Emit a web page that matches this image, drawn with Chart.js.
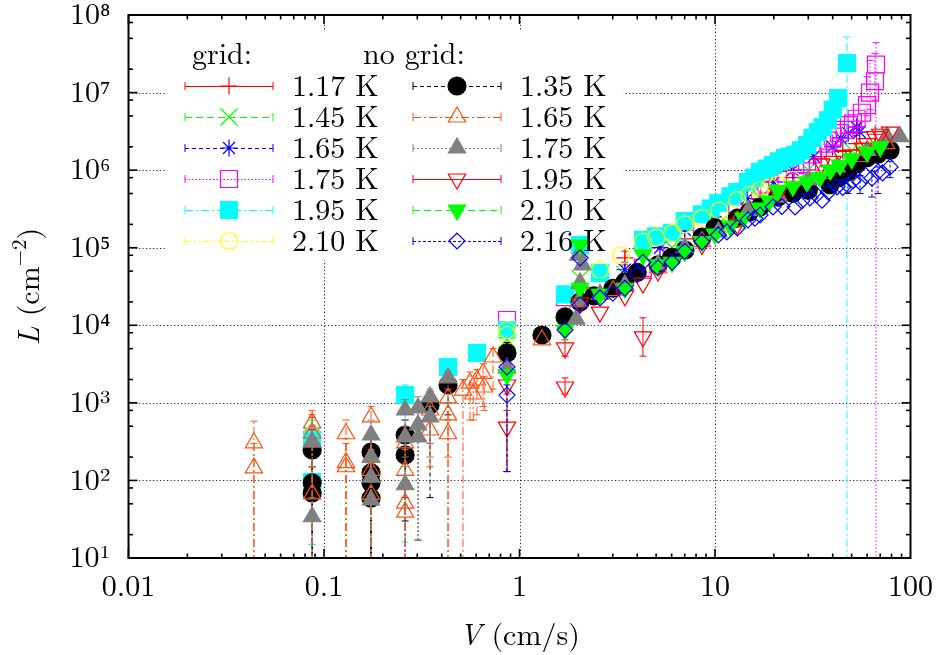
<!DOCTYPE html>
<html>
<head>
<meta charset="utf-8">
<script src="https://cdn.jsdelivr.net/npm/chart.js@4.4.1/dist/chart.umd.min.js"></script>
<style>
html,body{margin:0;padding:0;background:#fff;}
#wrap{width:942px;height:655px;position:relative;}
canvas{display:block;}
</style>
</head>
<body>
<div id="wrap"><canvas id="c" width="942" height="655"></canvas></div>
<script>
// ---------------- data ----------------
const xTickValues = [0.01, 0.1, 1, 10, 100];
const xTickLabels = ['0.01', '0.1', '1', '10', '100'];
const yTickValues = [1e1, 1e2, 1e3, 1e4, 1e5, 1e6, 1e7, 1e8];
const yTickLabels = ['10\u00B9', '10\u00B2', '10\u00B3', '10\u2074', '10\u2075', '10\u2076', '10\u2077', '10\u2078'];
const groupTitles = ['grid:', 'no grid:'];
const seriesLabels = ['1.17 K', '1.45 K', '1.65 K', '1.75 K', '1.95 K', '2.10 K',
                      '1.35 K', '1.65 K', '1.75 K', '1.95 K', '2.10 K', '2.16 K'];

// each point: [V (cm/s), L (cm^-2), lower error bound, upper error bound]
const grid117 = [
  [0.087, 430, 120, 650], [2.58, 2.6e4], [3.46, 7.4e4, 6.0e4, 9.0e4], [5.11, 1.26e5, 1.05e5, 1.5e5],
  [7.0, 1.3e5], [10.4, 2.1e5], [17, 4.2e5], [25, 8.0e5], [35, 1.4e6], [45, 1.8e6],
  [53, 2.2e6, 1.8e6, 2.8e6], [66, 2.9e6]
];
const grid145 = [
  [0.087, 380, 100, 600], [0.174, 180, 1, 350], [0.863, 6500], [2.04, 4.0e4], [3.46, 4.5e4],
  [6.03, 1.0e5], [10.4, 2.0e5], [17, 4.4e5], [30, 1.0e6], [50, 1.8e6]
];
const grid165 = [
  [3.46, 5.2e4, 4.2e4, 6.5e4], [5.23, 1.0e5], [7.0, 1.7e5], [9.8, 2.5e5], [14.6, 4.3e5],
  [20, 7.0e5], [25, 1.0e6], [32, 1.5e6], [40, 2.0e6], [44, 2.6e6], [48, 3.0e6], [53, 3.6e6], [55, 3.1e6]
];
const grid175 = [
  [0.863, 1.17e4], [1.71, 2.3e4], [4.28, 5.5e4], [6.03, 1.1e5], [8.6, 2.0e5], [13, 3.6e5],
  [15, 4.6e5], [17, 5.5e5], [19, 6.5e5], [21, 7.5e5], [23, 9.0e5], [25.7, 1.16e6],
  [27.5, 1.2e6], [29.6, 1.3e6], [31.5, 1.6e6], [33.6, 1.9e6], [36, 2.2e6], [38, 2.4e6],
  [40, 2.7e6], [43, 3.0e6], [46, 3.3e6], [48.5, 3.8e6], [50.8, 4.0e6], [53, 4.6e6],
  [56.5, 5.5e6], [59.9, 6.9e6, 5.0e6, 1.6e7], [62.1, 1.0e7, 6.0e6, 2.6e7],
  [65.8, 1.4e7, 8.0e6, 3.2e7], [66.6, 2.3e7, 1, 4.4e7]
];
const grid195 = [
  [0.087, 330, 15, 520], [0.087, 95, 15, 200], [0.26, 1260, 16, 1700], [0.431, 2900], [0.606, 4400],
  [0.863, 8700], [1.71, 2.5e4], [2.04, 1.08e5], [2.58, 4.7e4], [4.28, 1.26e5], [5.0, 1.4e5],
  [6.03, 1.55e5], [7.0, 2.2e5], [8.58, 2.7e5], [9.5, 3.2e5], [10.4, 3.8e5], [12, 4.6e5],
  [13, 5.2e5], [14.75, 7.0e5], [15.9, 8.0e5], [17, 9.5e5], [18.4, 1.05e6], [19.8, 1.16e6],
  [21.2, 1.3e6], [22.8, 1.43e6], [24, 1.5e6], [25.7, 1.57e6], [27.5, 1.8e6], [29.6, 2.1e6],
  [31.5, 2.6e6], [33.6, 3.1e6], [35.5, 3.6e6], [37.8, 4.4e6], [40, 6.0e6],
  [42.6, 8.5e6, 7.0e6, 1.1e7], [47.3, 2.4e7, 1, 5.2e7]
];
const grid210 = [
  [0.863, 8700], [0.863, 7500], [2.58, 5.2e4], [3.3, 8.0e4], [4.28, 1.19e5], [5.0, 1.35e5],
  [6.03, 1.55e5], [7.0, 2.0e5], [8.58, 2.4e5], [10.5, 3.0e5], [13, 4.1e5], [15, 4.8e5],
  [17, 5.5e5], [19, 6.0e5], [21, 6.5e5], [24.8, 7.5e5]
];
const nogrid135 = [
  [0.087, 247, 1, 450], [0.087, 93, 1, 200], [0.087, 69, 1, 150],
  [0.174, 232, 1, 400], [0.174, 125, 1, 250], [0.174, 93, 1, 200], [0.174, 59, 1, 120],
  [0.26, 385, 60, 600], [0.26, 213, 30, 400], [0.3485, 940, 60, 1400], [0.431, 1700, 700, 2300],
  [0.863, 4400, 130, 6000], [1.303, 7500], [1.709, 1.28e4], [2.04, 2.0e4], [2.4, 2.4e4],
  [3.01, 3.0e4], [3.46, 3.6e4], [4.0, 4.8e4], [5.11, 6.0e4], [6.0, 7.5e4], [7.02, 9.3e4],
  [8.58, 1.37e5], [10, 1.8e5], [13, 2.4e5], [15, 2.9e5], [17, 3.35e5], [21, 4.5e5], [25, 5.0e5],
  [30, 5.5e5], [38.7, 6.5e5], [43, 8.0e5], [47.9, 9.5e5], [53, 1.2e6], [59.9, 1.45e6],
  [68, 1.6e6], [78.6, 1.8e6]
];
const nogrid165 = [
  [0.0438, 304, 1, 580], [0.0438, 145, 1, 300],
  [0.087, 550, 1, 800], [0.087, 409, 1, 700], [0.087, 313, 1, 500], [0.087, 67, 1, 150],
  [0.1296, 400, 1, 600], [0.1296, 170, 1, 350], [0.1296, 150, 1, 300],
  [0.174, 658, 1, 900], [0.174, 200, 1, 400], [0.174, 135, 1, 250], [0.174, 66, 1, 150],
  [0.26, 304, 1, 500], [0.26, 135, 1, 250], [0.26, 51, 1, 100], [0.26, 39, 1, 80],
  [0.3485, 809, 300, 1100], [0.3485, 447, 150, 700],
  [0.431, 1160, 1, 1500], [0.431, 700, 1, 1000], [0.431, 400, 200, 600],
  [0.514, 1460, 1, 2000], [0.558, 1800, 600, 2500], [0.58, 1300, 600, 1800], [0.606, 1970, 700, 2700],
  [0.651, 2400, 900, 3200], [0.66, 1600, 800, 2200], [0.732, 3900, 1500, 5000],
  [1.303, 6500], [2.04, 3.5e4], [3.01, 2.8e4], [5.11, 5.5e4], [8.58, 1.2e5], [13, 2.2e5],
  [21, 4.8e5], [35, 9.0e5], [55, 1.5e6], [75, 2.2e6]
];
const nogrid175 = [
  [0.087, 313, 1, 500], [0.087, 34, 1, 60],
  [0.174, 385, 1, 600], [0.174, 200, 1, 350], [0.174, 110, 1, 200], [0.174, 56, 1, 100],
  [0.26, 809, 200, 1100], [0.26, 363, 1, 600], [0.26, 88, 1, 150],
  [0.3026, 859, 17, 1200], [0.3026, 518, 17, 800], [0.3026, 363, 17, 500],
  [0.3485, 1190, 300, 1500], [0.3485, 658, 200, 900], [0.431, 2100, 1000, 2600], [0.863, 2800],
  [1.95, 1.2e4], [2.0, 2.0e4], [2.04, 3.5e4], [2.1, 6.0e4], [2.0, 8.0e4],
  [2.58, 2.5e4], [3.46, 3.3e4], [5.11, 6.0e4], [7.0, 1.0e5], [10.4, 1.6e5], [14.75, 3.0e5],
  [21, 4.5e5], [30, 7.5e5], [42, 1.1e6], [60, 1.8e6], [75.8, 2.7e6], [88.4, 2.7e6]
];
const nogrid195 = [
  [0.863, 1700, 1300, 2200], [0.863, 488, 130, 800], [1.709, 5100, 4000, 6500], [1.709, 1600, 1300, 2100],
  [2.04, 1.94e4], [2.58, 1.48e4], [3.46, 2.4e4], [4.28, 3.5e4], [4.28, 7100, 4000, 1.25e4],
  [5.11, 5.0e4], [8.58, 1.1e5], [13, 2.0e5], [21, 5.0e5], [35, 1.2e6], [40, 1.3e6], [45, 1.5e6],
  [50.8, 1.57e6], [57.1, 1.93e6], [60, 2.2e6], [65.8, 2.7e6], [70, 2.9e6], [78.6, 3.1e6]
];
const nogrid210 = [
  [0.863, 2300], [1.709, 8700], [2.04, 1.08e5], [2.04, 3.0e4], [2.58, 2.5e4], [3.46, 3.0e4],
  [4.28, 8.1e4], [5.0, 6.0e4], [6.03, 6.5e4], [7.0, 9.0e4], [8.58, 1.2e5], [10, 1.5e5], [12, 1.9e5],
  [14, 2.4e5], [17, 3.25e5], [19, 4.0e5], [21, 5.5e5], [25, 6.2e5], [29.6, 7.0e5], [34.4, 8.1e5],
  [39, 1.0e6], [43.6, 1.16e6], [50, 1.4e6], [59.9, 1.71e6], [70, 2.0e6]
];
const nogrid216 = [
  [0.863, 2900], [0.863, 1260, 130, 1700], [1.709, 8700], [2.04, 7.4e4], [2.04, 1.83e4],
  [2.58, 2.25e4], [3.0, 2.6e4], [3.46, 3.0e4], [4.0, 4.5e4], [4.28, 6.5e4], [5.11, 5.5e4],
  [6.03, 6.5e4], [7.0, 9.0e4], [8.58, 1.19e5], [10.4, 1.46e5], [11.5, 1.6e5], [13, 1.8e5],
  [14.75, 2.28e5], [16, 2.4e5], [17, 2.64e5], [19.8, 3.35e5], [22, 3.4e5], [25.7, 3.35e5],
  [27.8, 4.0e5], [30.6, 4.4e5], [33, 4.8e5], [35.3, 4.1e5], [38, 5.2e5], [42.1, 6.1e5],
  [45, 6.0e5], [47.9, 6.4e5, 5.0e5, 7.5e5], [50.8, 7.3e5], [55.2, 7.0e5, 5.0e5, 8.5e5],
  [59, 8.5e5], [63.5, 7.9e5, 4.5e5, 9.5e5], [68.2, 9.5e5, 5.0e5, 1.1e6], [72, 9.2e5],
  [78.6, 1.1e6, 8.0e5, 1.3e6]
];

// ---------------- styles ----------------
const FONT = '"Latin Modern Roman", "Liberation Serif", "DejaVu Serif", serif';
const seriesData = [grid117, grid145, grid165, grid175, grid195, grid210,
                    nogrid135, nogrid165, nogrid175, nogrid195, nogrid210, nogrid216];
const styles = [
  {c: '#ff0000', fill: false, ps: 'cross',    r: 8.5, rot: 0,   dash: []},
  {c: '#00ff00', fill: false, ps: 'crossRot', r: 12,  rot: 0,   dash: [7, 4]},
  {c: '#0000ff', fill: false, ps: 'star',     r: 8.5, rot: 0,   dash: [4, 3]},
  {c: '#ff00ff', fill: false, ps: 'rect',     r: 12,  rot: 0,   dash: [1.5, 2]},
  {c: '#00ffff', fill: true,  ps: 'rect',     r: 12,  rot: 0,   dash: [8, 3, 2, 3]},
  {c: '#ffff00', fill: false, ps: 'circle',   r: 8.5, rot: 0,   dash: [6, 3, 2, 3, 2, 3]},
  {c: '#000000', fill: true,  ps: 'circle',   r: 9,   rot: 0,   dash: [4, 3]},
  {c: '#ff5010', fill: false, ps: 'triangle', r: 10,  rot: 0,   dash: [8, 3, 2, 3]},
  {c: '#808080', fill: true,  ps: 'triangle', r: 10,  rot: 0,   dash: [2, 2]},
  {c: '#ff0000', fill: false, ps: 'triangle', r: 10,  rot: 180, dash: []},
  {c: '#00ff00', fill: true,  ps: 'triangle', r: 10,  rot: 180, dash: [7, 4]},
  {c: '#0000ff', fill: false, ps: 'rectRot',  r: 8,   rot: 0,   dash: [3, 2]}
];

const datasets = seriesData.map((arr, i) => {
  const s = styles[i];
  return {
    label: (i < 6 ? 'grid ' : 'no grid ') + seriesLabels[i],
    data: arr.map(p => ({x: p[0], y: p[1], lo: p[2], hi: p[3]})),
    showLine: false,
    pointStyle: s.ps,
    pointRadius: s.r,
    pointRotation: s.rot,
    borderColor: s.c,
    backgroundColor: s.fill ? s.c : 'rgba(0,0,0,0)',
    borderWidth: 1.2,
    order: 11 - i,
    errDash: s.dash
  };
});

// ---------------- layout constants (pixels) ----------------
const LEGEND = {
  box: {x: 167, y: 30, w: 456, h: 230},
  titleY: 55, rowY0: 86, rowDy: 31,
  cols: [{x1: 185, x2: 273, mx: 229, tx: 292, titleX: 192},
         {x1: 413, x2: 501, mx: 457, tx: 520, titleX: 363}]
};
const FS = 30;

function drawMarker(ctx, ds, x, y) {
  ctx.save();
  ctx.setLineDash([]);
  ctx.strokeStyle = ds.borderColor;
  ctx.fillStyle = ds.backgroundColor;
  ctx.lineWidth = ds.borderWidth;
  Chart.helpers.drawPoint(ctx, {pointStyle: ds.pointStyle, rotation: ds.pointRotation, radius: ds.pointRadius, borderWidth: ds.borderWidth}, x, y);
  ctx.restore();
}

const gnuplotLook = {
  id: 'gnuplotLook',
  beforeDatasetsDraw(chart) {
    const {ctx, chartArea: a, scales: {x, y}} = chart;
    const b = LEGEND.box;
    ctx.save();
    ctx.beginPath();
    ctx.rect(a.left, a.top, a.right - a.left, a.bottom - a.top);
    ctx.rect(b.x, b.y, b.w, b.h);
    ctx.clip('evenodd');
    ctx.strokeStyle = 'rgba(0,0,0,0.85)';
    ctx.lineWidth = 1;
    ctx.setLineDash([1.2, 2.3]);
    xTickValues.forEach(v => {
      const p = Math.round(x.getPixelForValue(v)) + 0.5;
      if (p > a.left + 3 && p < a.right - 3) {
        ctx.beginPath(); ctx.moveTo(p, a.bottom); ctx.lineTo(p, a.top); ctx.stroke();
      }
    });
    yTickValues.forEach(v => {
      const p = Math.round(y.getPixelForValue(v)) + 0.5;
      if (p > a.top + 3 && p < a.bottom - 3) {
        ctx.beginPath(); ctx.moveTo(a.left, p); ctx.lineTo(a.right, p); ctx.stroke();
      }
    });
    ctx.restore();
  },
  beforeDatasetDraw(chart, args) {
    const ds = chart.data.datasets[args.index];
    const {ctx, chartArea: a, scales: {x, y}} = chart;
    ctx.save();
    ctx.beginPath();
    ctx.rect(a.left, a.top, a.right - a.left, a.bottom - a.top);
    ctx.clip();
    ctx.strokeStyle = ds.borderColor;
    ctx.lineWidth = 1;
    ds.data.forEach(p => {
      if (p.lo == null || p.hi == null) return;
      const px = x.getPixelForValue(p.x);
      const yl = Math.min(y.getPixelForValue(p.lo), a.bottom + 5);
      const yh = y.getPixelForValue(p.hi);
      ctx.setLineDash(ds.errDash);
      ctx.beginPath(); ctx.moveTo(px, yl); ctx.lineTo(px, yh); ctx.stroke();
      ctx.setLineDash([]);
      [yl, yh].forEach(yy => {
        if (yy < a.bottom && yy > a.top) {
          ctx.beginPath(); ctx.moveTo(px - 3.5, yy); ctx.lineTo(px + 3.5, yy); ctx.stroke();
        }
      });
    });
    ctx.restore();
  },
  afterDatasetsDraw(chart) {
    const {ctx, chartArea: a, scales: {x, y}} = chart;
    ctx.save();
    ctx.strokeStyle = '#000';
    ctx.setLineDash([]);
    ctx.lineWidth = 1.6;
    const tick = (x1, y1, x2, y2) => { ctx.beginPath(); ctx.moveTo(x1, y1); ctx.lineTo(x2, y2); ctx.stroke(); };
    for (let d = -2; d <= 1; d++) {
      for (let m = 1; m <= 9; m++) {
        const v = m * Math.pow(10, d);
        const p = x.getPixelForValue(v);
        const len = m === 1 ? 9 : 4.5;
        tick(p, a.bottom, p, a.bottom - len);
        tick(p, a.top, p, a.top + len);
      }
    }
    for (let d = 1; d <= 7; d++) {
      [1, 2, 5, 8].forEach(m => {
        const v = m * Math.pow(10, d);
        const p = y.getPixelForValue(v);
        const len = m === 1 ? 9 : 4.5;
        tick(a.left, p, a.left + len, p);
        tick(a.right, p, a.right - len, p);
      });
    }
    ctx.lineWidth = 2;
    ctx.strokeRect(a.left, a.top, a.right - a.left, a.bottom - a.top);
    ctx.restore();
  },
  afterDraw(chart) {
    const {ctx, chartArea: a} = chart;
    ctx.save();
    ctx.fillStyle = '#000';
    ctx.textBaseline = 'middle';
    ctx.font = FS + 'px ' + FONT;
    ctx.textAlign = 'left';
    LEGEND.cols.forEach((c, g) => {
      ctx.fillText(groupTitles[g], c.titleX, LEGEND.titleY);
      for (let k = 0; k < 6; k++) {
        const i = g * 6 + k;
        const ds = chart.data.datasets[i];
        const yy = LEGEND.rowY0 + k * LEGEND.rowDy;
        ctx.save();
        ctx.strokeStyle = ds.borderColor;
        ctx.lineWidth = 1;
        ctx.setLineDash(ds.errDash);
        ctx.beginPath(); ctx.moveTo(c.x1, yy + 0.5); ctx.lineTo(c.x2, yy + 0.5); ctx.stroke();
        ctx.setLineDash([]);
        ctx.beginPath(); ctx.moveTo(c.x1, yy - 4); ctx.lineTo(c.x1, yy + 4);
        ctx.moveTo(c.x2, yy - 4); ctx.lineTo(c.x2, yy + 4); ctx.stroke();
        ctx.restore();
        drawMarker(ctx, ds, c.mx, yy);
        ctx.fillStyle = '#000';
        ctx.fillText(seriesLabels[i], c.tx, yy + 1);
      }
    });
    // x axis title: V (cm/s)
    const cx = (a.left + a.right) / 2;
    ctx.font = 'italic ' + FS + 'px ' + FONT;
    const wV = ctx.measureText('V').width;
    ctx.font = FS + 'px ' + FONT;
    const wRest = ctx.measureText(' (cm/s)').width;
    const sx = cx - (wV + wRest) / 2;
    ctx.font = 'italic ' + FS + 'px ' + FONT;
    ctx.fillText('V', sx, 636);
    ctx.font = FS + 'px ' + FONT;
    ctx.fillText(' (cm/s)', sx + wV, 636);
    // y axis title: L (cm^-2)
    ctx.save();
    ctx.translate(30, (a.top + a.bottom) / 2);
    ctx.rotate(-Math.PI / 2);
    ctx.font = 'italic ' + FS + 'px ' + FONT;
    const wL = ctx.measureText('L').width;
    ctx.font = FS + 'px ' + FONT;
    const w1 = ctx.measureText(' (cm').width;
    const w3 = ctx.measureText(')').width;
    ctx.font = '21px ' + FONT;
    const w2 = ctx.measureText('\u22122').width;
    let t = -(wL + w1 + w2 + w3) / 2;
    ctx.font = 'italic ' + FS + 'px ' + FONT; ctx.fillText('L', t, 0); t += wL;
    ctx.font = FS + 'px ' + FONT; ctx.fillText(' (cm', t, 0); t += w1;
    ctx.font = '21px ' + FONT; ctx.fillText('\u22122', t, -10); t += w2;
    ctx.font = FS + 'px ' + FONT; ctx.fillText(')', t, 0);
    ctx.restore();
    ctx.restore();
  }
};

new Chart(document.getElementById('c'), {
  type: 'scatter',
  data: {datasets},
  options: {
    responsive: false,
    animation: false,
    devicePixelRatio: 1,
    events: [],
    layout: {autoPadding: false, padding: {left: 0, right: 31.5, top: 15, bottom: 0}},
    plugins: {legend: {display: false}, tooltip: {enabled: false}, title: {display: false}},
    scales: {
      x: {
        type: 'logarithmic', position: 'bottom', min: 0.01, max: 100,
        grid: {display: false, drawTicks: false},
        border: {display: false},
        afterBuildTicks: s => { s.ticks = xTickValues.map(v => ({value: v, major: true})); },
        afterFit: s => { s.height = 97; s.paddingLeft = 0; s.paddingRight = 0; },
        ticks: {
          autoSkip: false, maxRotation: 0, minRotation: 0, padding: 11, color: '#000',
          font: {family: FONT, size: FS},
          callback: (v, i) => xTickLabels[i]
        }
      },
      y: {
        type: 'logarithmic', position: 'left', min: 10, max: 1e8,
        grid: {display: false, drawTicks: false},
        border: {display: false},
        afterBuildTicks: s => { s.ticks = yTickValues.map(v => ({value: v, major: true})); },
        afterFit: s => { s.width = 128.5; s.paddingTop = 0; s.paddingBottom = 0; },
        ticks: {
          autoSkip: false, padding: 18, color: '#000',
          font: {family: FONT, size: FS},
          callback: (v, i) => yTickLabels[i]
        }
      }
    }
  },
  plugins: [gnuplotLook]
});
</script>
</body>
</html>
